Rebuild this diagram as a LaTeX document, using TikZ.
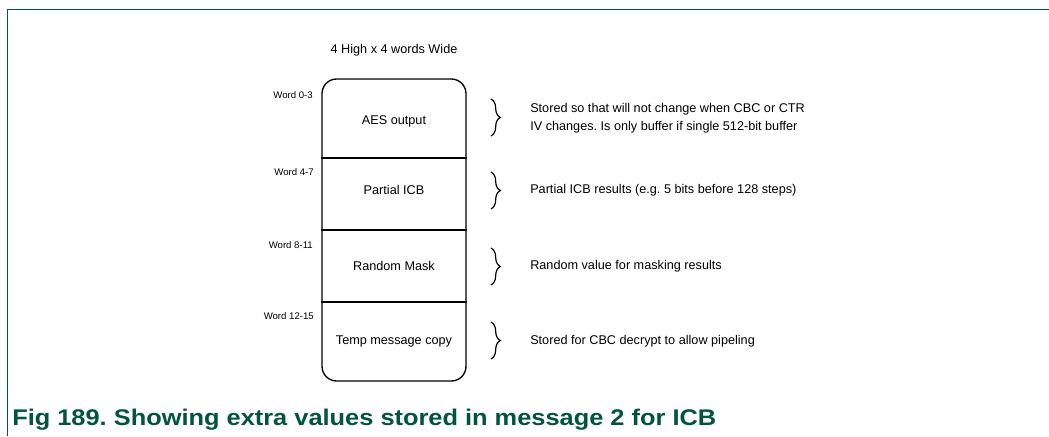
\documentclass[tikz,border=0pt]{standalone}
\usepackage{fontspec}
\setmainfont{Liberation Sans}
\newfontfamily\capfont[FakeStretch=1.12]{Liberation Sans}
\usetikzlibrary{decorations.pathreplacing}
\definecolor{figgreen}{RGB}{0,84,64}
\frenchspacing

\begin{document}
\begin{tikzpicture}[x=.75pt,y=-.75pt,
  txt/.style={font=\fontsize{9.5}{11.5}\selectfont,inner sep=0pt},
  wordlbl/.style={font=\fontsize{7.2}{8}\selectfont,anchor=east,inner sep=0pt},
  note/.style={txt,anchor=west,align=left},
  bracepath/.style={decorate,decoration={brace,amplitude=7pt},line width=.9pt}]
\useasboundingbox (0,0) rectangle (1049,436);
\draw[figgreen,line width=1.1pt] (7.5,436) -- (7.5,9.5) -- (1049,9.5);
\node[txt] (title) at (394,50) {4 High x 4 words Wide};
\node[draw,line width=1pt,rounded corners=11pt,minimum width=108pt,minimum height=226.5pt,inner sep=0pt] (mem) at (394,230) {};
\draw[line width=1pt] (mem.west |- 0,158) -- (mem.east |- 0,158);
\draw[line width=1pt] (mem.west |- 0,230) -- (mem.east |- 0,230);
\draw[line width=1pt] (mem.west |- 0,302) -- (mem.east |- 0,302);
\node[txt] (aes) at (394,121) {AES output};
\node[txt] (picb) at (394,190) {Partial ICB};
\node[txt] (rmask) at (394,266) {Random Mask};
\node[txt] (tmsg) at (394,341) {Temp message copy};
\node[wordlbl] (w0) at (313,95) {Word 0-3};
\node[wordlbl] (w4) at (314,172) {Word 4-7};
\node[wordlbl] (w8) at (313,245) {Word 8-11};
\node[wordlbl] (w12) at (314,316) {Word 12-15};
% braces
\coordinate (b1t) at (491,99);
\coordinate (b1b) at (491,136);
\coordinate (b2t) at (491,172);
\coordinate (b2b) at (491,209);
\coordinate (b3t) at (491,248);
\coordinate (b3b) at (491,285);
\coordinate (b4t) at (491,322);
\coordinate (b4b) at (491,359);
\draw[bracepath] (b1t) -- (b1b);
\draw[bracepath] (b2t) -- (b2b);
\draw[bracepath] (b3t) -- (b3b);
\draw[bracepath] (b4t) -- (b4b);
\node[note,font=\fontsize{9.5}{13.5}\selectfont] (n1) at (530,118) {Stored so that will not change when CBC or CTR\\IV changes. Is only buffer if single 512-bit buffer};
\node[note] (n2) at (530,190) {Partial ICB results (e.g. 5 bits before 128 steps)};
\node[note] (n3) at (530,266) {Random value for masking results};
\node[note] (n4) at (530,341) {Stored for CBC decrypt to allow pipeling};
\node[anchor=base west,inner sep=0pt,text=figgreen,font=\capfont\bfseries\fontsize{17}{19}\selectfont] (cap) at (12,425) {Fig 189. Showing extra values stored in message 2 for ICB};
\end{tikzpicture}
\end{document}
